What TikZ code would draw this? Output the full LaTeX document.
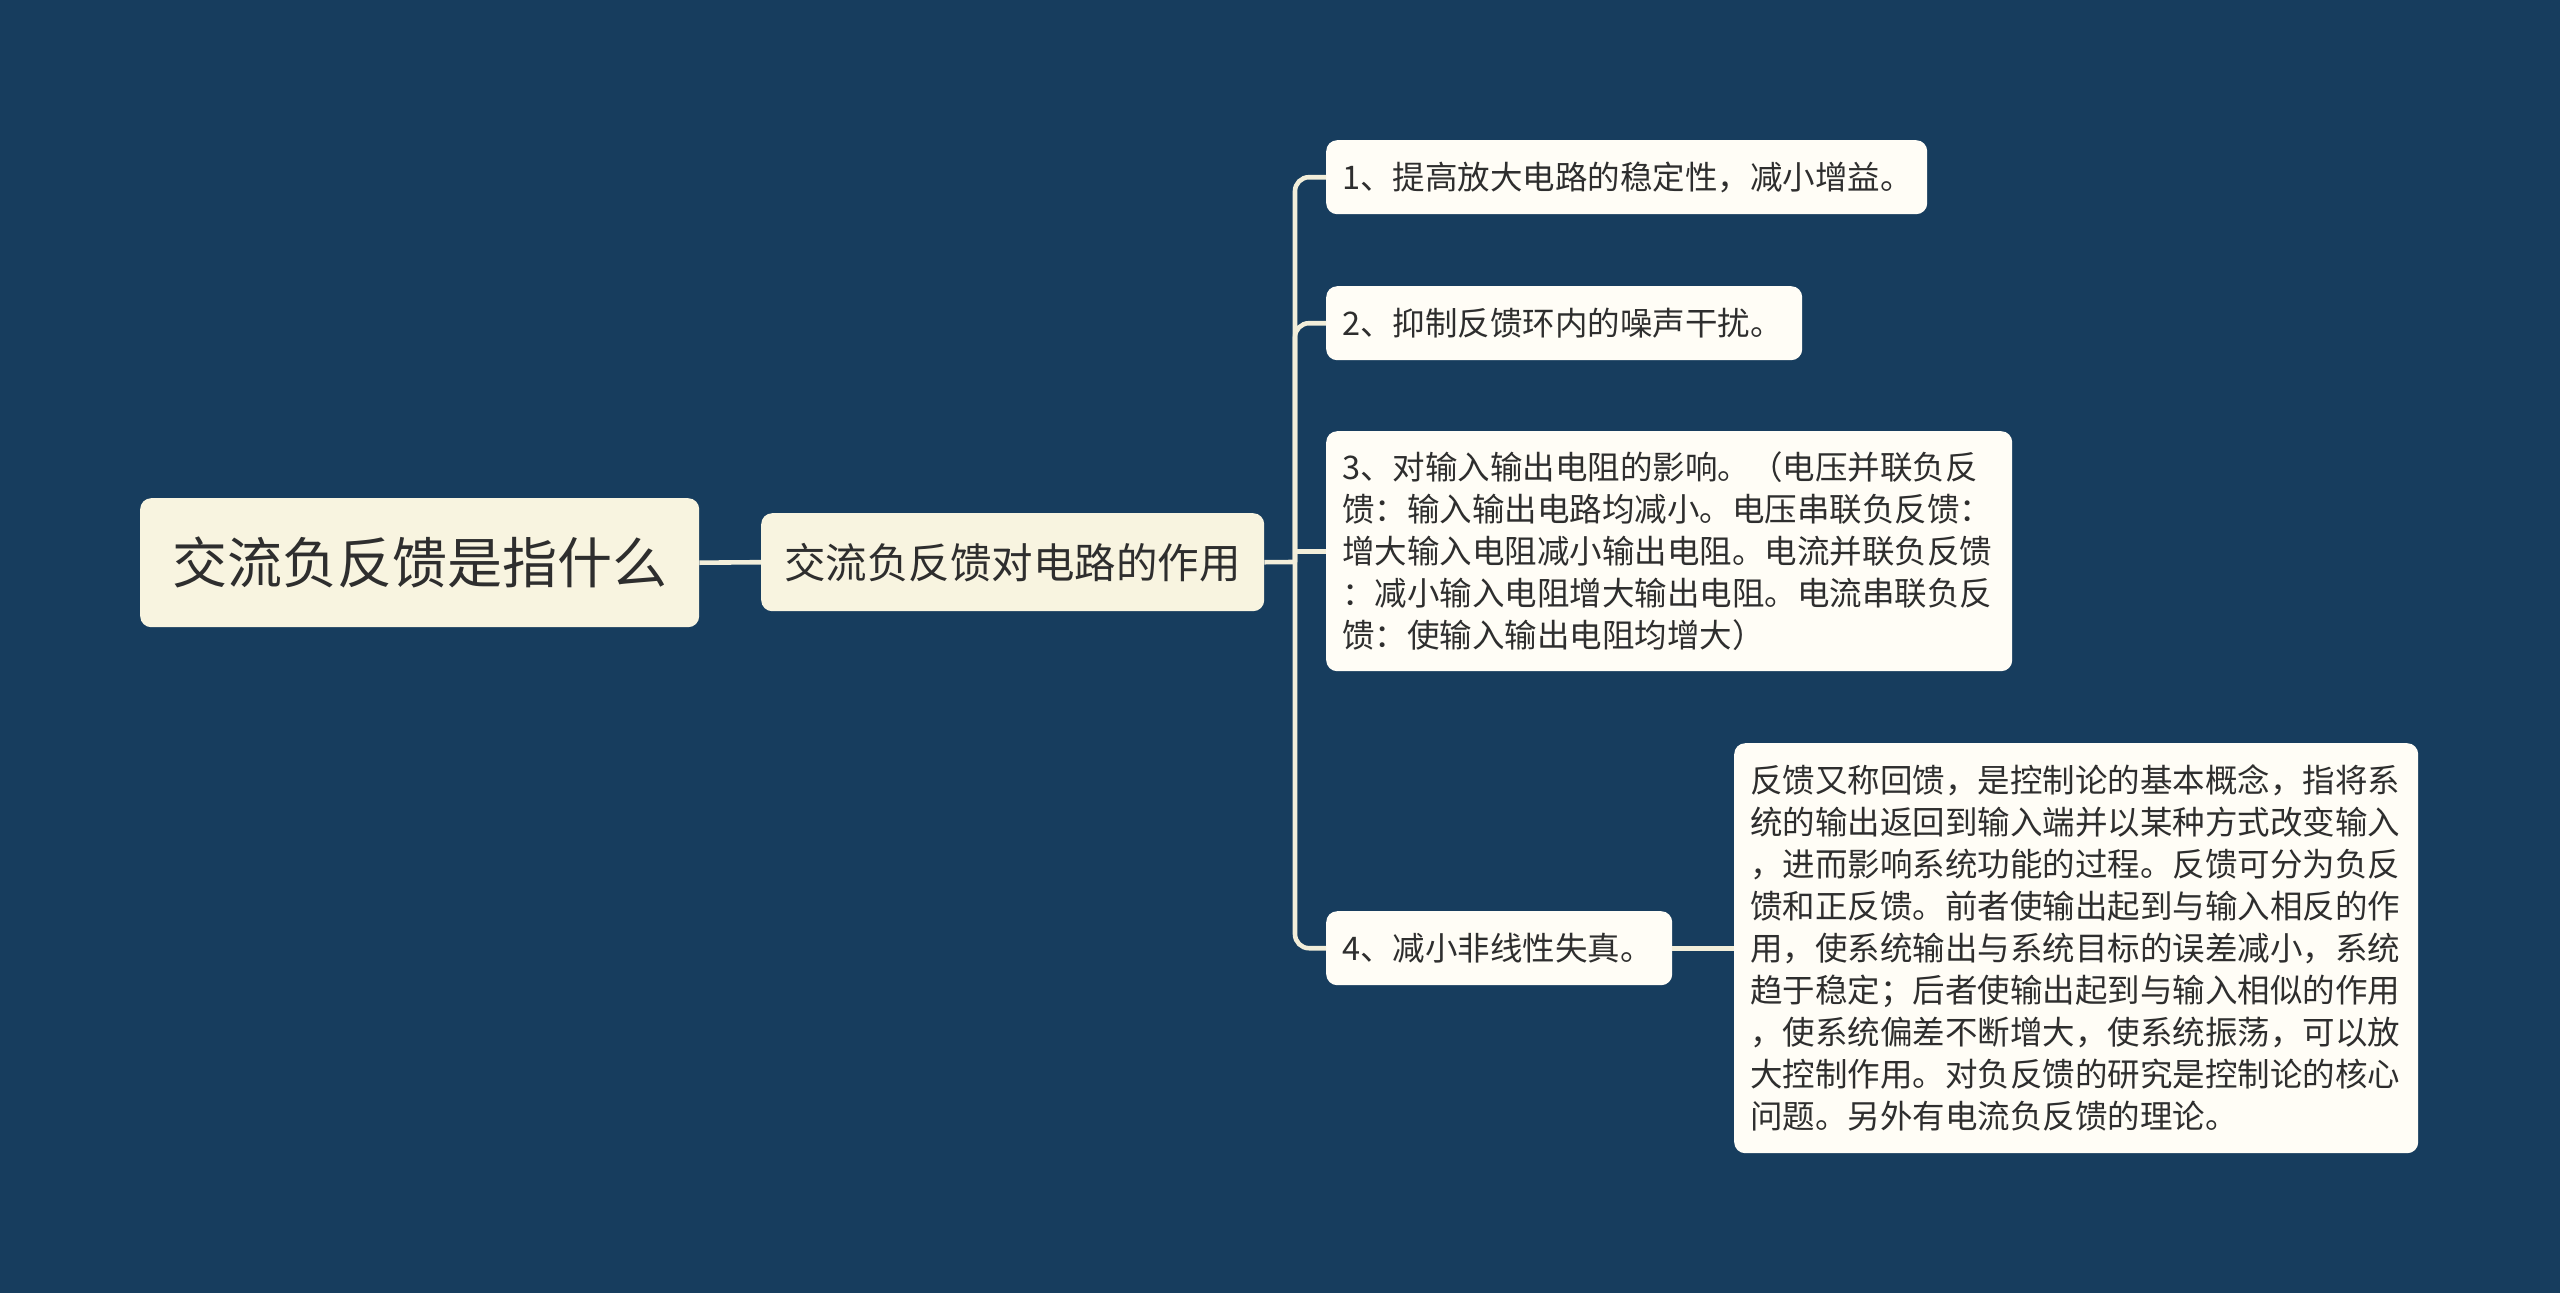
\documentclass[tikz,border=0pt]{standalone}
\usepackage{fontspec}
\setmainfont{Noto Sans CJK SC}
\definecolor{bg}{HTML}{173D5E}
\definecolor{cream}{HTML}{F8F4E0}
\definecolor{leaf}{HTML}{FFFDF6}
\definecolor{line}{HTML}{F2EEDA}
\definecolor{txt}{HTML}{2E2E2E}
\tikzset{
  box/.style={anchor=north west, rounded corners=11pt, inner xsep=16pt, inner ysep=0pt, text=txt, align=left},
  rootbox/.style={box, fill=cream, align=center, font=\fontsize{55}{66}\selectfont},
  mainbox/.style={box, fill=cream, align=center, font=\fontsize{41.5}{50}\selectfont},
  leafbox/.style={box, fill=leaf, font=\fontsize{32.5}{42}\selectfont},
  conn/.style={draw=line, line width=4.6pt},
}
\begin{document}
\begin{tikzpicture}[x=1pt,y=-1pt]
\fill[bg] (0,0) rectangle (2560,1293);
\useasboundingbox (0,0) rectangle (2560,1293);
\node[rootbox, minimum width=559pt, minimum height=129pt, text width=527pt] (root) at (140,498) {交流负反馈是指什么};
\node[mainbox, minimum width=503pt, minimum height=98pt, text width=471pt] (main) at (761,513) {交流负反馈对电路的作用};
\node[leafbox, minimum width=601pt, minimum height=74pt, text width=569pt] (n1) at (1326,140) {1、提高放大电路的稳定性，减小增益。};
\node[leafbox, minimum width=476pt, minimum height=74pt, text width=444pt] (n2) at (1326,286) {2、抑制反馈环内的噪声干扰。};
\node[leafbox, minimum width=686pt, minimum height=240pt, text width=654pt] (n3) at (1326,431) {3、对输入输出电阻的影响。（电压并联负反\\馈：输入输出电路均减小。电压串联负反馈：\\增大输入电阻减小输出电阻。电流并联负反馈\\：减小输入电阻增大输出电阻。电流串联负反\\馈：使输入输出电阻均增大）};
\node[leafbox, minimum width=346pt, minimum height=74pt, text width=314pt] (n4) at (1326,911) {4、减小非线性失真。};
\node[leafbox, minimum width=684pt, minimum height=410pt, text width=652pt] (n5) at (1734,743) {反馈又称回馈，是控制论的基本概念，指将系\\统的输出返回到输入端并以某种方式改变输入\\，进而影响系统功能的过程。反馈可分为负反\\馈和正反馈。前者使输出起到与输入相反的作\\用，使系统输出与系统目标的误差减小，系统\\趋于稳定；后者使输出起到与输入相似的作用\\，使系统偏差不断增大，使系统振荡，可以放\\大控制作用。对负反馈的研究是控制论的核心\\问题。另外有电流负反馈的理论。};
\coordinate (trunk) at (1295,562);
\draw[conn] (root.east) -- (main.west);
\draw[conn] (main.east) -- (trunk);
\foreach \n in {n1,n2,n4}{
  \draw[conn, rounded corners=14pt] (trunk) |- (\n.west);
}
\draw[conn] (trunk) |- (n3.west);
\draw[conn] (n4.east) -- (n5.west);
\end{tikzpicture}
\end{document}
